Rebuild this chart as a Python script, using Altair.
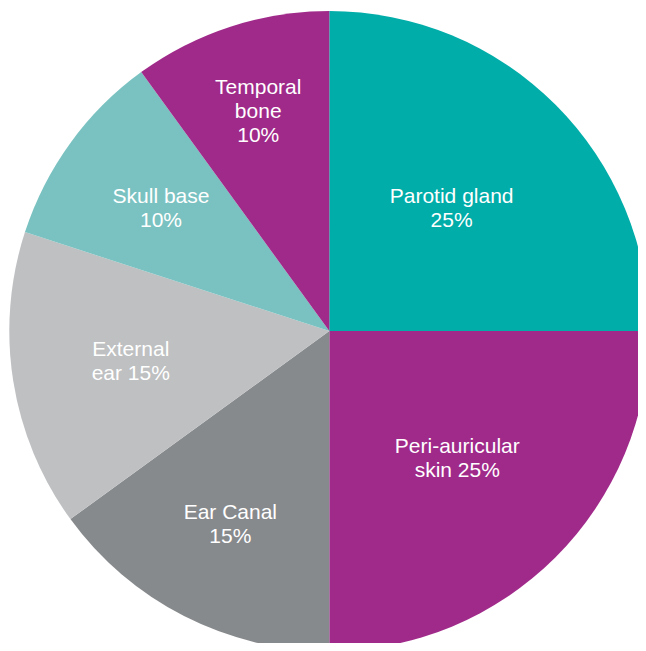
import altair as alt
import pandas as pd

categories = ["Parotid gland", "Peri-auricular skin", "Ear Canal", "External ear", "Skull base", "Temporal bone"]
shares = [25, 25, 15, 15, 10, 10]
labels = ["Parotid gland\n25%", "Peri-auricular\nskin 25%", "Ear Canal\n15%", "External\near 15%", "Skull base\n10%", "Temporal\nbone\n10%"]
colors = ["#00ADA9", "#A02A8A", "#878A8C", "#BEC0C1", "#7AC2C1", "#A02A8A"]
label_radius = [173, 181, 218, 201, 208, 230]

df = pd.DataFrame({
    "category": categories,
    "share": shares,
    "label": labels,
    "order": list(range(len(categories))),
    "lr": label_radius,
})

cx, cy, R = 321.3, 323, 320
LH = 24
theta_scale = alt.Scale(domain=[0, 100], range=[0, 6.283185307179586])

base = alt.Chart(df).transform_window(
    cum="sum(share)", sort=[alt.SortField("order", order="ascending")]
).transform_calculate(
    start="datum.cum - datum.share",
    mid="datum.cum - datum.share / 2",
    nlines="length(split(datum.label, '\\n'))",
)

arcs = base.mark_arc(radius=R).encode(
    theta=alt.Theta("start:Q", scale=theta_scale, stack=None),
    theta2="cum:Q",
    color=alt.Color("category:N", scale=alt.Scale(domain=categories, range=colors), legend=None),
    x=alt.value(cx),
    y=alt.value(cy),
)


def text_layer(n):
    return base.transform_filter(f"datum.nlines == {n}").mark_text(
        color="white", fontSize=21, font="Liberation Sans", lineBreak="\n",
        lineHeight=LH, align="center", baseline="middle", dy=-(n - 1) * LH / 2,
    ).encode(
        theta=alt.Theta("mid:Q", scale=theta_scale, stack=None),
        text="label:N",
        radius=alt.Radius("lr:Q", scale=None),
        x=alt.value(cx),
        y=alt.value(cy),
    )


chart = alt.layer(arcs, text_layer(2), text_layer(3)).properties(
    width=630, height=635, padding=0, autosize=alt.AutoSizeParams(type="none"),
).configure_view(stroke=None)

chart.save("out.html", embed_options={"renderer": "svg", "actions": False})
